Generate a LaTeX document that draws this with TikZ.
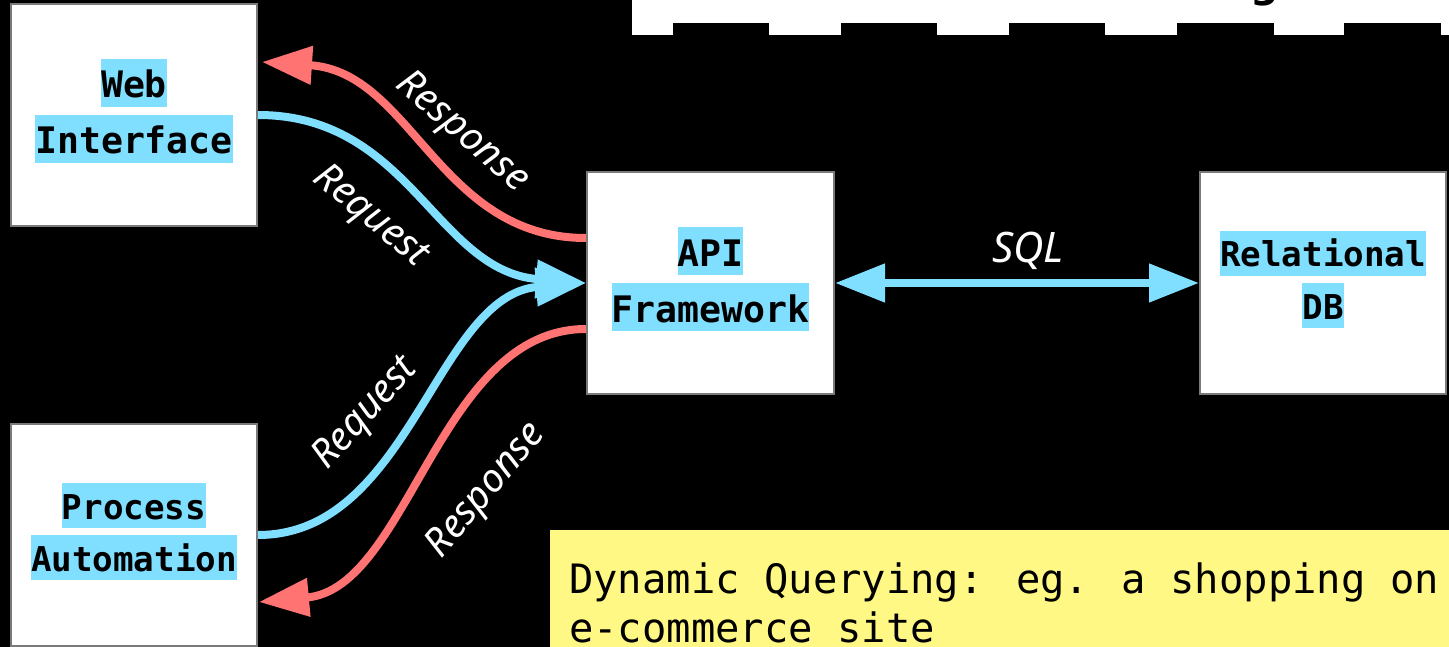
\documentclass[tikz,border=0pt]{standalone}
\usepackage{fontspec}
\usetikzlibrary{arrows.meta}
\newfontfamily\monofam{DejaVu Sans Mono}
\newfontfamily\labelfam{Noto Sans}
\newfontfamily\titlefam{DejaVu Sans}
\definecolor{hlblue}{HTML}{80DEFF}
\definecolor{resred}{HTML}{FF7373}
\definecolor{noteyellow}{HTML}{FFF884}
\definecolor{boxgray}{HTML}{7A7A7A}
\begin{document}
\begin{tikzpicture}[x=1pt,y=-1pt,
  compbox/.style={draw=boxgray,line width=2pt,fill=white,minimum width=246pt,minimum height=222pt,inner sep=0pt},
  biglbl/.style={fill=hlblue,inner sep=0pt,text height=39pt,text depth=9pt,font=\monofam\bfseries\fontsize{36.5}{40}\selectfont},
  smalllbl/.style={fill=hlblue,inner sep=0pt,text height=36pt,text depth=9pt,font=\monofam\bfseries\fontsize{34.2}{38}\selectfont},
  headtip/.tip={Triangle[length=50pt,width=37pt]},
  req/.style={draw=hlblue,line width=8pt,-headtip},
  resp/.style={draw=resred,line width=8pt,-headtip},
  flowtxt/.style={text=white,inner sep=0pt,font=\labelfam\itshape\fontsize{39}{42}\selectfont},
  notetxt/.style={anchor=base west,inner sep=0pt,font=\monofam\fontsize{40.5}{44}\selectfont},
]
\useasboundingbox (0,0) rectangle (1449,647);
\clip (0,0) rectangle (1449,647);
\fill[black] (0,0) rectangle (1449,647);

% title banner along the top edge
\fill[white] (632,0) rectangle (1449,23);
\foreach \a/\b in {632/673,769/841,937/1009,1105/1177,1274/1344,1441/1449}
  \fill[white] (\a,23) rectangle (\b,35);
\node[anchor=base west,inner sep=0pt,font=\titlefam\bfseries\fontsize{40}{44}\selectfont] (ttl) at (1250,-2.5) {g};

% components
\node[compbox] (web)  at (134,115)   {};
\node[compbox] (proc) at (134,535)   {};
\node[compbox,minimum width=247pt] (api) at (710.5,283) {};
\node[compbox] (db)   at (1323,283)  {};

\node[biglbl] (webA) at (134,83)  {Web};
\node[biglbl] (webB) at (134,139) {Interface};
\node[biglbl] (apiA) at (710.5,251) {API};
\node[biglbl] (apiB) at (710.5,307) {Framework};
\node[smalllbl] (procA) at (134,505.5) {Process};
\node[smalllbl] (procB) at (134,557.5) {Automation};
\node[smalllbl] (dbA) at (1323,253.5) {Relational};
\node[smalllbl] (dbB) at (1323,305.5) {DB};

% request / response flows
\draw[resp] ([yshift=45pt]api.west) .. controls +(-147,0) and +(150,10) .. ([xshift=4pt,yshift=53pt]web.east);
\draw[req] (web.east) .. controls +(152,0) and +(-150,-12) .. (api.west);
\draw[req] (proc.east) .. controls +(152,0) and +(-150,12) .. (api.west);
\draw[resp] ([yshift=-46pt]api.west) .. controls +(-147,0) and +(150,-14) .. ([xshift=1pt,yshift=-67pt]proc.east);

\node[flowtxt,rotate=-41] (l1) at (462,133) {Response};
\node[flowtxt,rotate=-40] (l2) at (370,217) {Request};
\node[flowtxt,rotate=48]  (l3) at (366,414) {Request};
\node[flowtxt,rotate=50]  (l4) at (487,491) {Response};

% database link
\draw[draw=hlblue,line width=8pt,headtip-headtip] (api.east) -- (db.west);
\node[anchor=base,inner sep=0pt,text=white,font=\labelfam\itshape\fontsize{42}{46}\selectfont] (sql) at (1028,263) {SQL};

% note
\node[fill=noteyellow,anchor=north west,minimum width=910pt,minimum height=130pt,inner sep=0pt] (note) at (550,530) {};
\node[notetxt] (n1) at (569,593) {Dynamic Querying: eg. a shopping on};
\node[notetxt] (n2) at (569,642) {e-commerce site};
\end{tikzpicture}
\end{document}
